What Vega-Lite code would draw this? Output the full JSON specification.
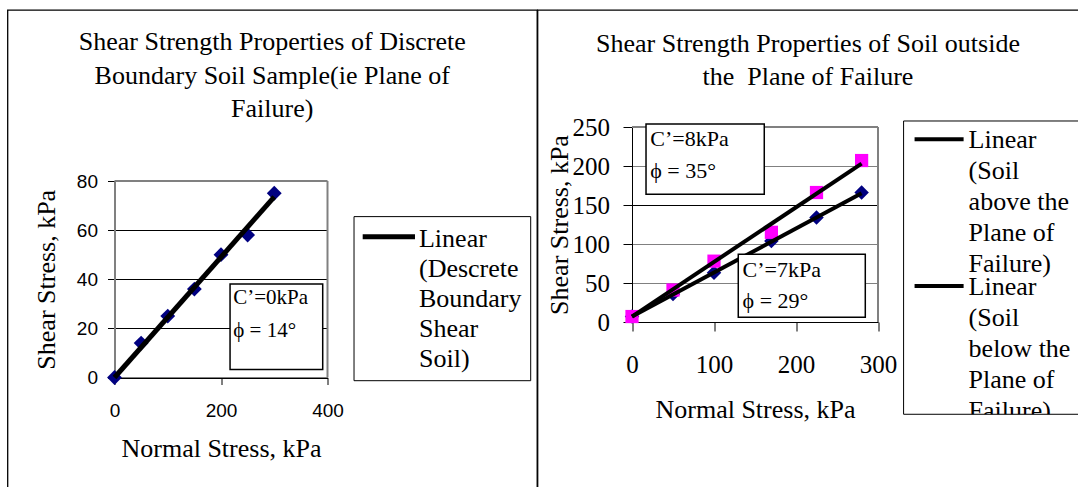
{
  "$schema": "https://vega.github.io/schema/vega-lite/v6.json",
  "background": "white",
  "padding": {"left": 6.5, "top": 9, "right": 0, "bottom": 0},
  "autosize": {"type": "pad"},
  "spacing": 0,
  "bounds": "flush",
  "config": {
    "view": {"stroke": "black", "strokeWidth": 1.3, "fill": "white"},
    "title": {"font": "Liberation Serif", "fontSize": 26, "fontWeight": "normal", "color": "black", "anchor": "middle", "frame": "group", "baseline": "top", "lineHeight": 33.5},
    "axis": {"titleFont": "Liberation Serif", "titleFontSize": 26, "titleFontWeight": "normal", "titleColor": "black", "labelColor": "black", "tickColor": "black", "labelFlush": false, "labelOverlap": false, "tickWidth": 1}
  },
  "datasets": {
    "leftPts": [
      {"x": 0, "y": 0}, {"x": 50, "y": 14}, {"x": 100, "y": 25}, {"x": 150, "y": 36},
      {"x": 200, "y": 50}, {"x": 250, "y": 58}, {"x": 300, "y": 75}
    ],
    "leftFit": [{"x": 0, "y": 0}, {"x": 300, "y": 73.5}],
    "leftFrame": [{"x": 0, "x2": 400, "y": 80, "y2": 80}, {"x": 400, "x2": 400, "y": 0, "y2": 80}],
    "leftBox": [{"x": 217, "x2": 391, "y": 3.3, "y2": 38.1}],
    "leftNote": [{"x": 223, "y": 29.9, "t": "C’=0kPa"}, {"x": 223, "y": 16.6, "t": "ϕ = 14°"}],
    "leftLegBox": [{"x": 449.8, "x2": 781.6, "y": -1.3, "y2": 65.5}],
    "leftLegLine": [{"x": 466.1, "x2": 564.3, "y": 57.3, "y2": 57.3}],
    "leftLegText": [{"x": 571.8, "y": 53.3, "t": "Linear\n(Descrete\nBoundary\nShear\nSoil)"}],
    "rightPts": [
      {"s": "below", "x": 0, "y": 7}, {"s": "below", "x": 50, "y": 36}, {"s": "below", "x": 100, "y": 63},
      {"s": "below", "x": 170, "y": 104}, {"s": "below", "x": 225, "y": 134}, {"s": "below", "x": 280, "y": 166},
      {"s": "above", "x": 0, "y": 7}, {"s": "above", "x": 50, "y": 41}, {"s": "above", "x": 100, "y": 78},
      {"s": "above", "x": 170, "y": 115}, {"s": "above", "x": 225, "y": 166}, {"s": "above", "x": 280, "y": 207}
    ],
    "rightFit": [
      {"s": "above", "x": 0, "y": 7}, {"s": "above", "x": 280, "y": 203},
      {"s": "below", "x": 0, "y": 7}, {"s": "below", "x": 280, "y": 165}
    ],
    "rightFrame": [{"x": 0, "x2": 300, "y": 250, "y2": 250}, {"x": 300, "x2": 300, "y": 0, "y2": 250}],
    "rightBox": [{"x": 17.1, "x2": 161.3, "y": 163.7, "y2": 253.8}, {"x": 129.6, "x2": 284.5, "y": 6.0, "y2": 86.8}],
    "rightNote": [
      {"x": 22.3, "y": 226, "t": "C’=8kPa"}, {"x": 22.3, "y": 184.2, "t": "ϕ = 35°"},
      {"x": 134.9, "y": 58.1, "t": "C’=7kPa"}, {"x": 134.9, "y": 18.3, "t": "ϕ = 29°"}
    ],
    "rightLegBox": [{"x": 331.2, "x2": 560, "y": -118.3, "y2": 257.7}],
    "rightLegCover": [{"x": 331.2, "x2": 600, "y": -118.3, "y2": -260}],
    "rightLegLine": [{"x": 344.6, "x2": 404.4, "y": 234.2, "y2": 234.2}, {"x": 344.6, "x2": 404.4, "y": 46.2, "y2": 46.2}],
    "rightLegText": [
      {"x": 410.5, "y": 223.1, "t": "Linear\n(Soil\nabove the\nPlane of\nFailure)"},
      {"x": 410.5, "y": 34.6, "t": "Linear\n(Soil\nbelow the\nPlane of\nFailure)"}
    ]
  },
  "hconcat": [
    {
      "width": 529.5,
      "height": 490,
      "title": {"text": ["Shear Strength Properties of Discrete", "Boundary Soil Sample(ie Plane of", "Failure)"], "offset": -112},
      "encoding": {
        "x": {"field": "x", "type": "quantitative",
          "scale": {"domain": [0, 400], "range": [107, 320], "nice": false, "zero": false},
          "axis": {"title": "Normal Stress, kPa", "values": [0, 200, 400], "offset": -122.5, "grid": false,
            "domainColor": "black", "domainWidth": 1, "tickSize": 7,
            "labelFont": "Liberation Sans", "labelFontSize": 19, "labelPadding": 17, "titlePadding": 15}},
        "y": {"field": "y", "type": "quantitative",
          "scale": {"domain": [0, 80], "range": [367.5, 171], "nice": false, "zero": false},
          "axis": {"title": "Shear Stress, kPa", "values": [0, 20, 40, 60, 80], "offset": -107, "grid": true,
            "gridColor": "black", "gridWidth": 1, "domainColor": "#808080", "domainWidth": 2, "tickSize": 7,
            "labelFont": "Liberation Sans", "labelFontSize": 19, "labelPadding": 10, "titlePadding": 17}}
      },
      "layer": [
        {"data": {"name": "leftFrame"}, "mark": {"type": "rule", "color": "#808080", "strokeWidth": 2},
          "encoding": {"x2": {"field": "x2"}, "y2": {"field": "y2"}}},
        {"data": {"name": "leftPts"}, "mark": {"type": "point", "shape": "diamond", "filled": true, "color": "#000080", "size": 220, "opacity": 1}},
        {"data": {"name": "leftFit"}, "mark": {"type": "line", "color": "black", "strokeWidth": 5}},
        {"data": {"name": "leftBox"}, "mark": {"type": "rect", "fill": "white", "stroke": "black", "strokeWidth": 1.5},
          "encoding": {"x2": {"field": "x2"}, "y2": {"field": "y2"}}},
        {"data": {"name": "leftNote"}, "mark": {"type": "text", "font": "Liberation Serif", "fontSize": 21, "align": "left", "baseline": "alphabetic", "color": "black"},
          "encoding": {"text": {"field": "t"}}},
        {"data": {"name": "leftLegBox"}, "mark": {"type": "rect", "fill": "white", "stroke": "black", "strokeWidth": 1},
          "encoding": {"x2": {"field": "x2"}, "y2": {"field": "y2"}}},
        {"data": {"name": "leftLegLine"}, "mark": {"type": "rule", "color": "black", "strokeWidth": 5},
          "encoding": {"x2": {"field": "x2"}, "y2": {"field": "y2"}}},
        {"data": {"name": "leftLegText"}, "mark": {"type": "text", "font": "Liberation Serif", "fontSize": 26, "align": "left", "baseline": "alphabetic", "lineBreak": "\n", "lineHeight": 30, "color": "black"},
          "encoding": {"text": {"field": "t"}}}
      ]
    },
    {
      "width": 541,
      "height": 490,
      "title": {"text": ["Shear Strength Properties of Soil outside", "the\u00a0 Plane of Failure"], "offset": -80},
      "encoding": {
        "x": {"field": "x", "type": "quantitative",
          "scale": {"domain": [0, 300], "range": [94.5, 340.5], "nice": false, "zero": false},
          "axis": {"title": "Normal Stress, kPa", "values": [0, 100, 200, 300], "offset": -178, "grid": false,
            "domainColor": "black", "domainWidth": 1, "tickSize": 9,
            "labelFont": "Liberation Serif", "labelFontSize": 25, "labelPadding": 21, "titlePadding": 19.5}},
        "y": {"field": "y", "type": "quantitative",
          "scale": {"domain": [0, 250], "range": [312, 117], "nice": false, "zero": false},
          "axis": {"title": "Shear Stress, kPa", "values": [0, 50, 100, 150, 200, 250], "offset": -94.5, "grid": true,
            "gridColor": {"condition": {"test": "datum.value == 150", "value": "black"}, "value": "#808080"}, "gridWidth": 1,
            "domainColor": "black", "domainWidth": 1, "tickSize": 9,
            "labelFont": "Liberation Serif", "labelFontSize": 25, "labelPadding": 13.5, "titlePadding": 0}}
      },
      "layer": [
        {"data": {"name": "rightFrame"}, "mark": {"type": "rule", "color": "#808080", "strokeWidth": 2},
          "encoding": {"x2": {"field": "x2"}, "y2": {"field": "y2"}}},
        {"data": {"name": "rightPts"}, "mark": {"type": "point", "filled": true, "opacity": 1},
          "encoding": {
            "shape": {"field": "s", "type": "nominal", "scale": {"domain": ["below", "above"], "range": ["diamond", "square"]}, "legend": null},
            "color": {"field": "s", "type": "nominal", "scale": {"domain": ["below", "above"], "range": ["#000080", "#FF00FF"]}, "legend": null},
            "size": {"field": "s", "type": "nominal", "scale": {"domain": ["below", "above"], "range": [210, 175]}, "legend": null}
          }},
        {"data": {"name": "rightFit"}, "mark": {"type": "line", "color": "black", "strokeWidth": 4},
          "encoding": {"detail": {"field": "s", "type": "nominal"}}},
        {"data": {"name": "rightBox"}, "mark": {"type": "rect", "fill": "white", "stroke": "black", "strokeWidth": 1.5},
          "encoding": {"x2": {"field": "x2"}, "y2": {"field": "y2"}}},
        {"data": {"name": "rightNote"}, "mark": {"type": "text", "font": "Liberation Serif", "fontSize": 22, "align": "left", "baseline": "alphabetic", "color": "black"},
          "encoding": {"text": {"field": "t"}}},
        {"data": {"name": "rightLegLine"}, "mark": {"type": "rule", "color": "black", "strokeWidth": 4},
          "encoding": {"x2": {"field": "x2"}, "y2": {"field": "y2"}}},
        {"data": {"name": "rightLegText"}, "mark": {"type": "text", "font": "Liberation Serif", "fontSize": 26, "align": "left", "baseline": "alphabetic", "lineBreak": "\n", "lineHeight": 31, "color": "black"},
          "encoding": {"text": {"field": "t"}}},
        {"data": {"name": "rightLegCover"}, "mark": {"type": "rect", "fill": "white", "strokeWidth": 0},
          "encoding": {"x2": {"field": "x2"}, "y2": {"field": "y2"}}},
        {"data": {"name": "rightLegBox"}, "mark": {"type": "rect", "fill": null, "stroke": "black", "strokeWidth": 1},
          "encoding": {"x2": {"field": "x2"}, "y2": {"field": "y2"}}}
      ]
    }
  ]
}
